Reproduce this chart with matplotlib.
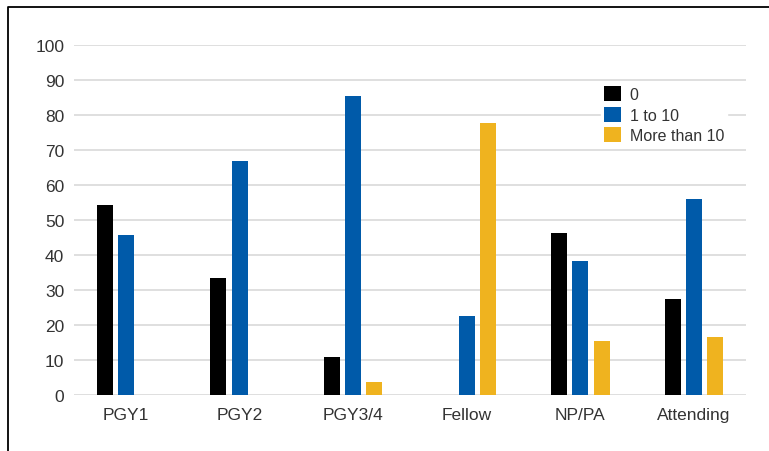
import numpy as np
import matplotlib
matplotlib.use("Agg")
import matplotlib.pyplot as plt
from matplotlib.lines import Line2D

plt.rcParams['font.family'] = ['Liberation Sans', 'DejaVu Sans']

# Percentages per role
roles = ["PGY1", "PGY2", "PGY3/4", "Fellow", "NP/PA", "Attending"]
series_names = ["0", "1 to 10", "More than 10"]
zero = [54.3, 33.5, 10.9, 0, 46.3, 27.5]
one_to_ten = [45.8, 66.9, 85.4, 22.6, 38.3, 56.0]
more_than_ten = [0, 0, 3.8, 77.7, 15.5, 16.7]
colors = ["#000000", "#005aa9", "#efb31f"]

W, H = 769, 452
fig = plt.figure(figsize=(W / 100, H / 100), dpi=100)
ax = fig.add_axes([74 / W, 1 - 396 / H, 672 / W, 350 / H])

x = np.arange(len(roles))
step = 0.187
width = 0.141
for i, (vals, name, c) in enumerate(zip([zero, one_to_ten, more_than_ten], series_names, colors)):
    ax.bar(x + (i - 1) * step, vals, width=width, color=c, label=name, zorder=3)

ax.set_xlim(-0.458, 5.458)
ax.set_ylim(0, 100)
ax.set_yticks(range(0, 101, 10))
ax.set_xticks(x)
ax.set_xticklabels(roles)
ax.yaxis.grid(True, color="#dcdcdc", linewidth=1.3, zorder=0)
ax.set_axisbelow(True)
for s in ax.spines.values():
    s.set_visible(False)
ax.tick_params(axis="both", length=0, labelsize=12.5, colors="#333333")
ax.tick_params(axis="y", pad=7)
ax.tick_params(axis="x", pad=9)

leg = ax.legend(loc="upper left", bbox_to_anchor=(601 / W, 1 - 84 / H),
                bbox_transform=fig.transFigure, frameon=True, fontsize=11.5,
                handlelength=1.05, handleheight=1.05, handletextpad=0.55,
                labelspacing=0.3, borderpad=0.2, borderaxespad=0)
leg.get_frame().set_edgecolor("white")
leg.get_frame().set_facecolor("white")
leg.get_frame().set_alpha(1)
leg.get_frame().set_boxstyle("square", pad=0)
for t in leg.get_texts():
    t.set_color("#333333")

# frame line along top and left edges
fig.add_artist(Line2D([7.5 / W, 7.5 / W, 1.0], [0.0, 1 - 7.5 / H, 1 - 7.5 / H],
                      transform=fig.transFigure, color="black", linewidth=1.3))

fig.savefig("out.png", dpi=100, facecolor="white")
